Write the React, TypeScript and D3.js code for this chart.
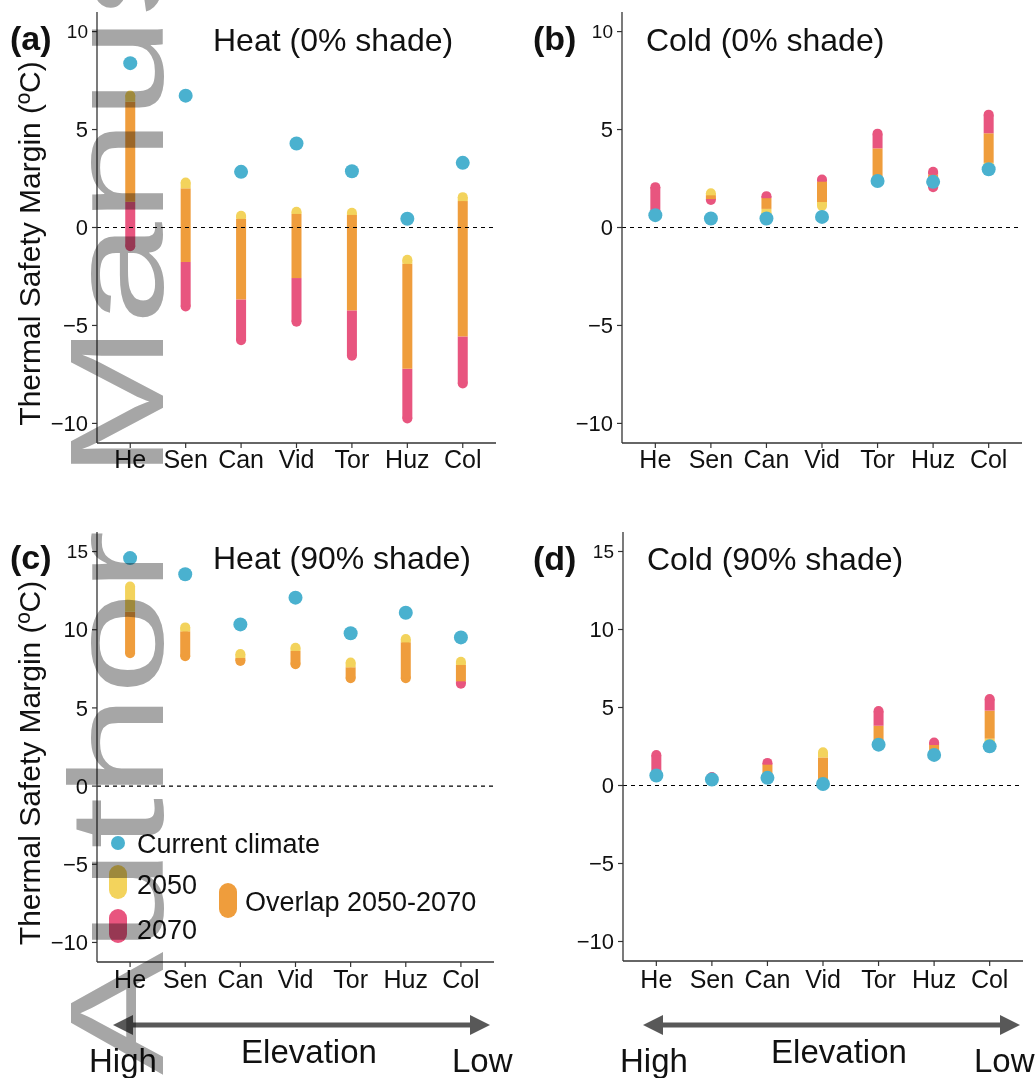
import React from "react";
import * as d3 from "d3";

// ---------------- data ----------------
const sites = ["He", "Sen", "Can", "Vid", "Tor", "Huz", "Col"];

// Panel (a) Heat, 0% shade
const heat0Current = [8.39, 6.73, 2.84, 4.29, 2.87, 0.45, 3.3];
const heat0Lo2050 = [1.31, -1.76, -3.67, -2.58, -4.23, -7.21, -5.56];
const heat0Hi2050 = [6.74, 2.3, 0.6, 0.8, 0.75, -1.65, 1.55];
const heat0Lo2070 = [-0.96, -4.03, -5.75, -4.81, -6.55, -9.75, -7.96];
const heat0Hi2070 = [6.42, 2.0, 0.45, 0.7, 0.65, -1.85, 1.35];

// Panel (b) Cold, 0% shade
const cold0Current = [0.63, 0.46, 0.46, 0.54, 2.37, 2.33, 2.97];
const cold0Lo2050 = [0.6, 1.45, 0.7, 1.1, 2.45, 2.3, 3.1];
const cold0Hi2050 = [0.8, 1.75, 1.5, 2.35, 4.04, 2.7, 4.81];
const cold0Lo2070 = [0.7, 1.4, 0.95, 1.3, 2.6, 2.05, 3.3];
const cold0Hi2070 = [2.06, 1.65, 1.6, 2.45, 4.79, 2.85, 5.76];

// Panel (c) Heat, 90% shade
const heat90Current = [14.58, 13.55, 10.34, 12.05, 9.77, 11.09, 9.51];
const heat90Lo2050 = [8.5, 8.3, 8.0, 7.8, 6.9, 6.9, 6.7];
const heat90Hi2050 = [12.76, 10.15, 8.45, 8.85, 7.9, 9.4, 7.95];
const heat90Lo2070 = [8.5, 8.3, 8.0, 7.8, 6.9, 6.9, 6.55];
const heat90Hi2070 = [11.15, 9.9, 8.2, 8.65, 7.6, 9.2, 7.75];

// Panel (d) Cold, 90% shade
const cold90Current = [0.64, 0.38, 0.49, 0.1, 2.62, 1.96, 2.51];
const cold90Lo2050 = [0.6, 0.3, 0.55, 0.1, 2.6, 2.1, 2.7];
const cold90Hi2050 = [0.8, 0.5, 1.35, 2.13, 3.83, 2.6, 4.8];
const cold90Lo2070 = [0.7, 0.35, 0.6, 0.15, 2.9, 2.0, 3.0];
const cold90Hi2070 = [1.95, 0.55, 1.45, 1.8, 4.77, 2.75, 5.55];

const ticksA = [-10, -5, 0, 5, 10];
const ticksC = [-10, -5, 0, 5, 10, 15];

// ---------------- style ----------------
const FONT = "'Liberation Sans', Arial, Helvetica, sans-serif";
const C_BLUE = "#4AB1CF";
const C_YEL = "#F3D35C";
const C_PINK = "#E8557F";
const C_ORA = "#EF9D3C";
const AXIS = "#333333";
const BAR_W = 10;

type Seg = { a: number; b: number; color: string };

function barPieces(lo50: number, hi50: number, lo70: number, hi70: number): Seg[][] {
  const olo = Math.max(lo50, lo70);
  const ohi = Math.min(hi50, hi70);
  if (olo >= ohi) {
    return [
      [{ a: lo50, b: hi50, color: C_YEL }],
      [{ a: lo70, b: hi70, color: C_PINK }],
    ];
  }
  const g: Seg[] = [];
  if (lo50 < lo70) g.push({ a: lo50, b: olo, color: C_YEL });
  else if (lo70 < lo50) g.push({ a: lo70, b: olo, color: C_PINK });
  g.push({ a: olo, b: ohi, color: C_ORA });
  if (hi50 > hi70) g.push({ a: ohi, b: hi50, color: C_YEL });
  else if (hi70 > hi50) g.push({ a: ohi, b: hi70, color: C_PINK });
  return [g];
}

type PanelCfg = {
  x0: number; x1: number; yTop: number; yBot: number;
  domain: [number, number]; ticks: number[];
  label: string; title: string; titleX: number; titleY: number;
  labelX: number; yTitle: boolean; labelY: number; xLabY: number;
};

function Panel({ cfg, current, lo50, hi50, lo70, hi70 }: {
  cfg: PanelCfg; current: number[]; lo50: number[]; hi50: number[]; lo70: number[]; hi70: number[];
}) {
  const x = d3.scalePoint<string>().domain(sites).range([cfg.x0, cfg.x1]).padding(0.6);
  const y = d3.scaleLinear().domain(cfg.domain).range([cfg.yBot, cfg.yTop]);
  const topTick = cfg.ticks[cfg.ticks.length - 1];
  return (
    <g>
      {/* bars */}
      {sites.map((s, i) => {
        const cx = x(s) as number;
        const groups = barPieces(lo50[i], hi50[i], lo70[i], hi70[i]);
        return (
          <g key={s}>
            {groups.map((g, gi) => {
              const first = g[0];
              const last = g[g.length - 1];
              return (
                <g key={gi}>
                  <circle cx={cx} cy={y(first.a)} r={BAR_W / 2} fill={first.color} />
                  <circle cx={cx} cy={y(last.b)} r={BAR_W / 2} fill={last.color} />
                  {g.map((p, pi) => (
                    <rect key={pi} x={cx - BAR_W / 2} y={y(p.b)} width={BAR_W}
                      height={Math.max(0, y(p.a) - y(p.b))} fill={p.color} />
                  ))}
                </g>
              );
            })}
          </g>
        );
      })}
      {/* zero line */}
      <line x1={cfg.x0} x2={cfg.x1} y1={y(0)} y2={y(0)} stroke="#000" strokeWidth={1.1} strokeDasharray="4,4" />
      {/* current climate */}
      {sites.map((s, i) => (
        <circle key={s} cx={x(s) as number} cy={y(current[i])} r={7} fill={C_BLUE} />
      ))}
      {/* axes */}
      <line x1={cfg.x0} x2={cfg.x0} y1={cfg.yTop} y2={cfg.yBot} stroke={AXIS} strokeWidth={1.3} />
      <line x1={cfg.x0} x2={cfg.x1} y1={cfg.yBot} y2={cfg.yBot} stroke={AXIS} strokeWidth={1.3} />
      {cfg.ticks.map((t) => (
        <g key={t}>
          <line x1={cfg.x0 - 5} x2={cfg.x0} y1={y(t)} y2={y(t)} stroke={AXIS} strokeWidth={1.2} />
          <text x={cfg.x0 - 9} y={y(t)} dy="0.35em" textAnchor="end" fontFamily={FONT}
            fontSize={t === topTick ? 19 : 22} fill="#111">
            {t < 0 ? "\u2212" + Math.abs(t) : String(t)}
          </text>
        </g>
      ))}
      {sites.map((s) => (
        <g key={s}>
          <line x1={x(s) as number} x2={x(s) as number} y1={cfg.yBot} y2={cfg.yBot + 5} stroke={AXIS} strokeWidth={1.2} />
          <text x={x(s) as number} y={cfg.xLabY} textAnchor="middle" fontFamily={FONT} fontSize={25} fill="#111">{s}</text>
        </g>
      ))}
      {/* label + title */}
      <text x={cfg.labelX} y={cfg.labelY} fontFamily={FONT} fontWeight="bold" fontSize={34} fill="#111">{cfg.label}</text>
      <text x={cfg.titleX} y={cfg.titleY} fontFamily={FONT} fontSize={32} fill="#111">{cfg.title}</text>
      {cfg.yTitle && (
        <text transform={`translate(40,${(cfg.yTop + cfg.yBot) / 2 + 16}) rotate(-90)`} textAnchor="middle"
          fontFamily={FONT} fontSize={30} fill="#111">Thermal Safety Margin (ºC)</text>
      )}
    </g>
  );
}

function Arrow({ x1, x2, yy }: { x1: number; x2: number; yy: number }) {
  const L = 20, hw = 10;
  return (
    <g fill="#585858" stroke="none">
      <line x1={x1 + L - 2} x2={x2 - L + 2} y1={yy} y2={yy} stroke="#585858" strokeWidth={5} />
      <path d={`M${x1},${yy} L${x1 + L},${yy - hw} L${x1 + L},${yy + hw} Z`} />
      <path d={`M${x2},${yy} L${x2 - L},${yy - hw} L${x2 - L},${yy + hw} Z`} />
    </g>
  );
}

export default function App() {
  const pa: PanelCfg = { x0: 97, x1: 496, yTop: 12, yBot: 443, domain: [-11, 11], ticks: ticksA,
    label: "(a)", title: "Heat (0% shade)", titleX: 213, titleY: 51, labelX: 10, labelY: 50, yTitle: true, xLabY: 468 };
  const pb: PanelCfg = { x0: 622, x1: 1022, yTop: 12, yBot: 443, domain: [-11, 11], ticks: ticksA,
    label: "(b)", title: "Cold (0% shade)", titleX: 646, titleY: 51, labelX: 533, labelY: 50, yTitle: false, xLabY: 468 };
  const pc: PanelCfg = { x0: 97, x1: 494, yTop: 532, yBot: 962, domain: [-11.25, 16.25], ticks: ticksC,
    label: "(c)", title: "Heat (90% shade)", titleX: 213, titleY: 569, labelX: 10, labelY: 569, yTitle: true, xLabY: 988 };
  const pd: PanelCfg = { x0: 623, x1: 1023, yTop: 532, yBot: 961, domain: [-11.25, 16.25], ticks: ticksC,
    label: "(d)", title: "Cold (90% shade)", titleX: 647, titleY: 570, labelX: 533, labelY: 570, yTitle: false, xLabY: 988 };

  return (
    <svg width={1035} height={1078} viewBox="0 0 1035 1078"
      style={{ position: "absolute", left: 0, top: 0, background: "#fff" }}>
      <rect x={0} y={0} width={1035} height={1078} fill="#fff" />
      <Panel cfg={pa} current={heat0Current} lo50={heat0Lo2050} hi50={heat0Hi2050} lo70={heat0Lo2070} hi70={heat0Hi2070} />
      <Panel cfg={pb} current={cold0Current} lo50={cold0Lo2050} hi50={cold0Hi2050} lo70={cold0Lo2070} hi70={cold0Hi2070} />
      <Panel cfg={pc} current={heat90Current} lo50={heat90Lo2050} hi50={heat90Hi2050} lo70={heat90Lo2070} hi70={heat90Hi2070} />
      <Panel cfg={pd} current={cold90Current} lo50={cold90Lo2050} hi50={cold90Hi2050} lo70={cold90Lo2070} hi70={cold90Hi2070} />

      {/* legend (panel c) */}
      <g fontFamily={FONT} fill="#111">
        <circle cx={118} cy={843} r={7} fill={C_BLUE} />
        <text x={137} y={853} fontSize={27}>Current climate</text>
        <rect x={109} y={865} width={18} height={34} rx={9} fill={C_YEL} />
        <text x={137} y={894} fontSize={27}>2050</text>
        <rect x={109} y={909} width={18} height={34} rx={9} fill={C_PINK} />
        <text x={137} y={939} fontSize={27}>2070</text>
        <rect x={219} y={883} width={18} height={35} rx={9} fill={C_ORA} />
        <text x={245} y={911} fontSize={27}>Overlap 2050-2070</text>
      </g>

      {/* elevation arrows */}
      <Arrow x1={113} x2={490} yy={1025} />
      <Arrow x1={643} x2={1020} yy={1025} />
      <g fontFamily={FONT} fontSize={33} fill="#111">
        <text x={89} y={1072}>High</text>
        <text x={309} y={1063} textAnchor="middle">Elevation</text>
        <text x={452} y={1072}>Low</text>
        <text x={620} y={1072}>High</text>
        <text x={839} y={1063} textAnchor="middle">Elevation</text>
        <text x={974} y={1072}>Low</text>
      </g>

      {/* watermark */}
      <text transform="translate(163,1075) rotate(-90) scale(1.39,1)" fontFamily={FONT} fontSize={133}
        fill="#a6a6a6" style={{ mixBlendMode: "multiply" }}>Author Manuscript</text>
    </svg>
  );
}
